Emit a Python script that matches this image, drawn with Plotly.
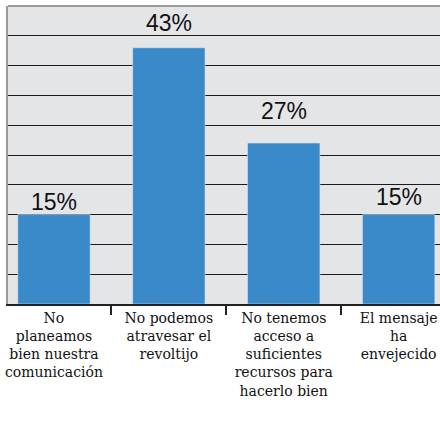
import plotly.graph_objects as go

categories = [
    "No<br>planeamos<br>bien nuestra<br>comunicación",
    "No podemos<br>atravesar el<br>revoltijo",
    "No tenemos<br>acceso a<br>suficientes<br>recursos para<br>hacerlo bien",
    "El mensaje<br>ha<br>envejecido",
]
values = [15, 43, 27, 15]
labels = ["15%", "43%", "27%", "15%"]
label_shift = [-2, 10, 17, 3]  # vertical offsets of the value labels (px)

fig = go.Figure()
fig.add_trace(go.Bar(
    x=categories, y=values, marker_color="#3a89c9", width=0.63,
    hoverinfo="skip",
))

for c, v, t, s in zip(categories, values, labels, label_shift):
    fig.add_annotation(x=c, y=v, text=t, showarrow=False, yanchor="bottom",
                       yshift=s, font=dict(family="Liberation Sans", size=23, color="#111"))

fig.add_shape(type="line", xref="paper", yref="paper", x0=0, x1=1, y0=1, y1=1,
              line=dict(color="#9a9a9a", width=2))

fig.update_layout(
    width=440, height=433,
    margin=dict(l=8, r=0, t=6, b=129),
    paper_bgcolor="white", plot_bgcolor="#e4e5e7",
    showlegend=False,
    font=dict(family="DejaVu Serif", size=14, color="#111"),
    xaxis=dict(
        type="category", range=[-0.4, 3.36], tickson="boundaries",
        ticks="outside", ticklen=9, tickcolor="#222", tickwidth=1.5,
        showline=True, linecolor="#222", linewidth=2,
        showgrid=False, tickangle=0,
        tickfont=dict(family="DejaVu Serif", size=14, color="#111"),
    ),
    yaxis=dict(
        range=[0, 50], tickvals=[5, 10, 15, 20, 25, 30, 35, 40, 45],
        showticklabels=False, showgrid=True, gridcolor="#1a1a1a", gridwidth=1.3,
        zeroline=False, showline=True, linecolor="#9a9a9a", linewidth=2,
        ticks="",
    ),
)

fig.write_html("out.html")
